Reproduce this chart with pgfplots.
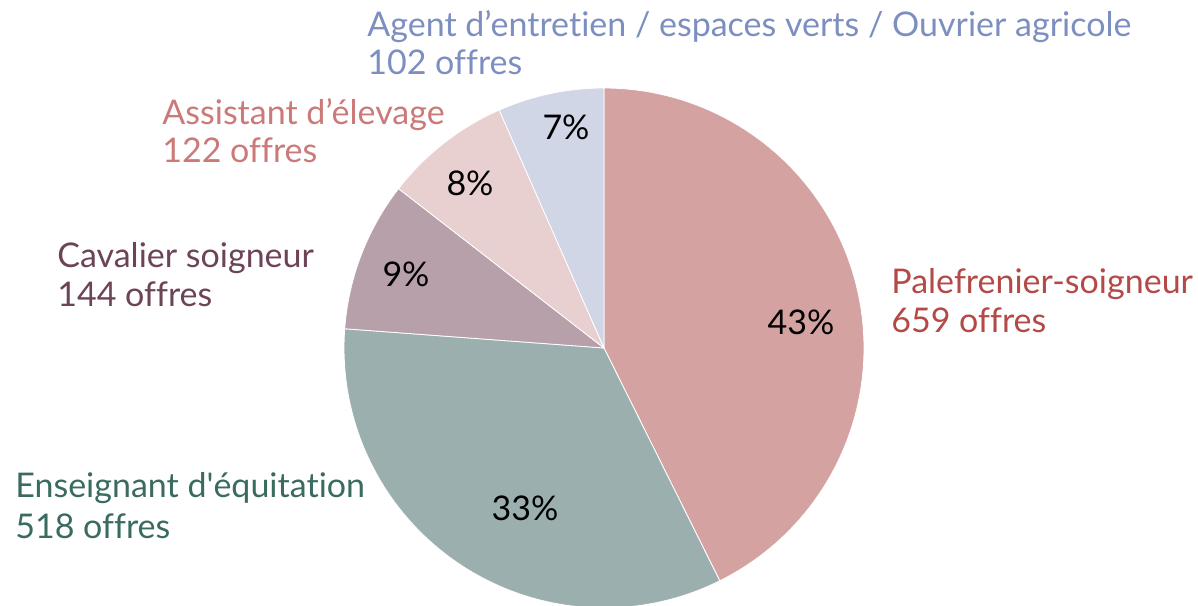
\documentclass[border=0pt]{standalone}
\usepackage{pgfplots}
\pgfplotsset{compat=1.18}
\usepackage{fontspec}
\setmainfont{Lato}[Ligatures=NoCommon]
\definecolor{fA}{HTML}{D4A2A1}\definecolor{tA}{HTML}{B34A48}
\definecolor{fB}{HTML}{9BB0AE}\definecolor{tB}{HTML}{3A6B60}
\definecolor{fC}{HTML}{B8A0AB}\definecolor{tC}{HTML}{6D4358}
\definecolor{fD}{HTML}{E8D0D0}\definecolor{tD}{HTML}{CB7A79}
\definecolor{fE}{HTML}{D1D6E6}\definecolor{tE}{HTML}{7D8FC0}
% values (offres)
\def\vA{659}\def\vB{518}\def\vC{144}\def\vD{122}\def\vE{102}
\pgfmathsetmacro{\tot}{\vA+\vB+\vC+\vD+\vE}
\pgfmathsetmacro{\aA}{90}
\pgfmathsetmacro{\aB}{\aA-\vA/\tot*360}
\pgfmathsetmacro{\aC}{\aB-\vB/\tot*360}
\pgfmathsetmacro{\aD}{\aC-\vC/\tot*360}
\pgfmathsetmacro{\aE}{\aD-\vD/\tot*360}
\pgfmathsetmacro{\aF}{\aE-\vE/\tot*360}
\tikzset{lab/.style={anchor=base west, inner sep=0pt, font=\fontsize{17}{20}\selectfont},
  pct/.style={inner sep=0pt, font=\fontsize{17}{20}\selectfont}}
\begin{document}
\begin{tikzpicture}
\begin{axis}[hide axis, scale only axis, width=599pt, height=302.5pt,
  xmin=0, xmax=1198, ymin=0, ymax=605, clip=false]
\def\cx{604}\def\cy{257}\def\r{260}
\addplot[fill=fA, draw=white, line width=0.4pt, domain=\aB:\aA, samples=90, variable=\t]
  ({\cx+\r*cos(\t)},{\cy+\r*sin(\t)}) -- (axis cs:\cx,\cy) -- cycle;
\addplot[fill=fB, draw=white, line width=0.4pt, domain=\aC:\aB, samples=90, variable=\t]
  ({\cx+\r*cos(\t)},{\cy+\r*sin(\t)}) -- (axis cs:\cx,\cy) -- cycle;
\addplot[fill=fC, draw=white, line width=0.4pt, domain=\aD:\aC, samples=40, variable=\t]
  ({\cx+\r*cos(\t)},{\cy+\r*sin(\t)}) -- (axis cs:\cx,\cy) -- cycle;
\addplot[fill=fD, draw=white, line width=0.4pt, domain=\aE:\aD, samples=40, variable=\t]
  ({\cx+\r*cos(\t)},{\cy+\r*sin(\t)}) -- (axis cs:\cx,\cy) -- cycle;
\addplot[fill=fE, draw=white, line width=0.4pt, domain=\aF:\aE, samples=40, variable=\t]
  ({\cx+\r*cos(\t)},{\cy+\r*sin(\t)}) -- (axis cs:\cx,\cy) -- cycle;
% percentages
\node[pct] at (axis cs:801,283) {43\%};
\node[pct] at (axis cs:525,97) {33\%};
\node[pct] at (axis cs:406,331) {9\%};
\node[pct] at (axis cs:470,422) {8\%};
\node[pct] at (axis cs:566,478) {7\%};
% category labels
\node[lab, text=tA] at (axis cs:891,311) {Palefrenier-soigneur};
\node[lab, text=tA] at (axis cs:891,272) {659 offres};
\node[lab, text=tB] at (axis cs:15,108) {Enseignant d\textquotesingle équitation};
\node[lab, text=tB] at (axis cs:15,67) {518 offres};
\node[lab, text=tC] at (axis cs:57,337) {Cavalier soigneur};
\node[lab, text=tC] at (axis cs:57,298) {144 offres};
\node[lab, text=tD] at (axis cs:162,480) {Assistant d’élevage};
\node[lab, text=tD] at (axis cs:162,442) {122 offres};
\node[lab, text=tE] at (axis cs:367,568) {Agent d’entretien / espaces verts / Ouvrier agricole};
\node[lab, text=tE] at (axis cs:367,530) {102 offres};
\end{axis}
\pgfresetboundingbox
\path (0,0) rectangle (599pt,302.5pt);
\end{tikzpicture}
\end{document}
